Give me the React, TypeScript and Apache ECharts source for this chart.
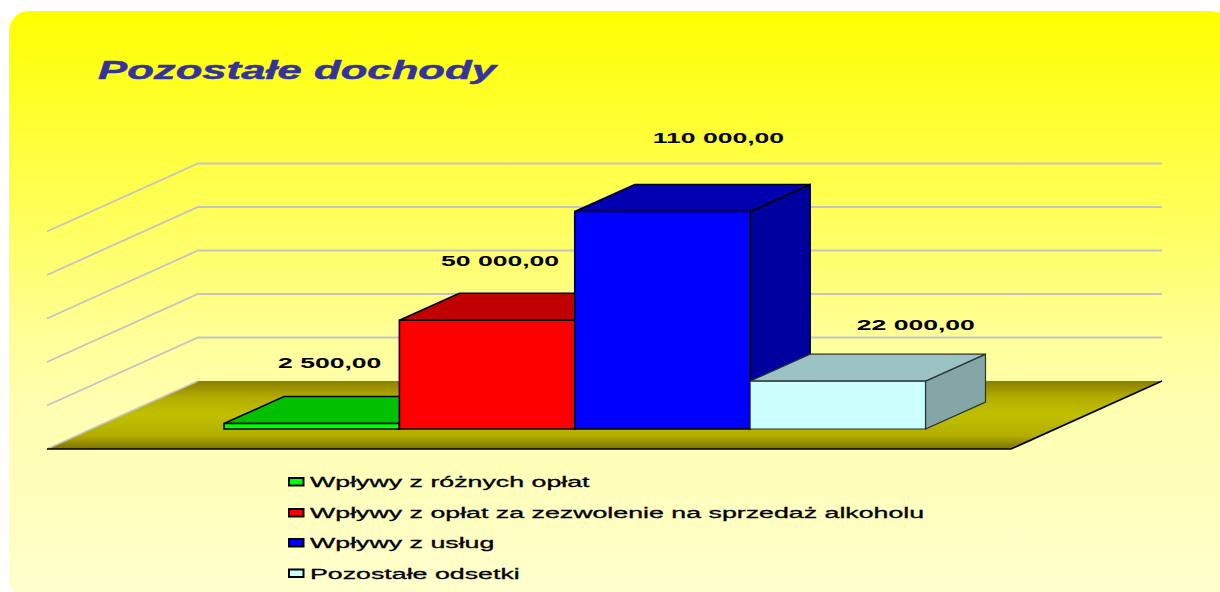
import React, { useEffect, useRef } from "react";
import * as echarts from "echarts";

const chartTitle = "Pozostałe dochody";
const categories = [
  "Wpływy z różnych opłat",
  "Wpływy z opłat za zezwolenie na sprzedaż alkoholu",
  "Wpływy z usług",
  "Pozostałe odsetki",
];
const values = [2500, 50000, 110000, 22000];
const valueLabels = ["2 500,00", "50 000,00", "110 000,00", "22 000,00"];
const gridTicks = [20000, 40000, 60000, 80000, 100000];
const axisMax = 100000;

const frontColors = ["#00ff00", "#ff0000", "#0000ff", "#ccffff"];
const topColors = ["#00c000", "#c00000", "#0000b0", "#9cc3c3"];
const sideColors = ["#009f00", "#a00000", "#00009f", "#84a6a6"];
const edgeColors = ["#000000", "#000000", "#000000", "#2b3333"];
// where each value label sits relative to the bar's front-top centre
const labelShiftX = [18, 13, 56, 78];
const labelShiftY = [61, 59, 74, 56];

const DX = 60; // bar depth on screen
const DY = 27;
const FONT = '"Liberation Sans", Arial, sans-serif';

function poly(points: number[][], fill: any, stroke: string, lineWidth: number) {
  return { type: "polygon", shape: { points }, style: { fill, stroke, lineWidth, lineJoin: "miter" } };
}

function barSeries(i: number) {
  return {
    type: "custom",
    name: categories[i],
    data: [[i, values[i]]],
    encode: { x: 0, y: 1 },
    renderItem: (_p: any, api: any) => {
      const cat = api.value(0);
      const v = Math.min(api.value(1), axisMax);
      const base = api.coord([cat, 0]);
      const top = api.coord([cat, v]);
      const w = api.size([1, 0])[0];
      const x0 = base[0] - w / 2;
      const x1 = base[0] + w / 2;
      const y0 = base[1];
      const y1 = top[1];
      const edge = edgeColors[i];
      const lw = i === 3 ? 1.2 : 1.6;
      return {
        type: "group",
        children: [
          poly([[x1, y1], [x1 + DX, y1 - DY], [x1 + DX, y0 - DY], [x1, y0]], sideColors[i], edge, lw),
          poly([[x0, y1], [x0 + DX, y1 - DY], [x1 + DX, y1 - DY], [x1, y1]], topColors[i], edge, lw),
          poly([[x0, y1], [x1, y1], [x1, y0], [x0, y0]], frontColors[i], edge, lw),
          {
            type: "text",
            x: base[0] + labelShiftX[i],
            y: y1 - labelShiftY[i],
            scaleX: 1.77,
            z2: 10,
            style: {
              text: valueLabels[i],
              font: `bold 15px ${FONT}`,
              fill: "#000000",
              align: "center",
              verticalAlign: "middle",
            },
          },
        ],
      };
    },
  };
}

// back wall gridlines, offset from the bars' front plane
const wallSeries = {
  type: "custom",
  name: "wall",
  data: gridTicks.map((t) => [0, t]),
  encode: { x: 0, y: 1 },
  silent: true,
  renderItem: (_p: any, api: any) => {
    const y = api.coord([0, api.value(1)])[1] - 48;
    return {
      type: "polyline",
      shape: { points: [[47, y + 68], [198, y], [1162, y]] },
      style: { fill: "none", stroke: "#c4c4c4", lineWidth: 1.8 },
    };
  },
};

const floorSeries = {
  type: "custom",
  name: "floor",
  data: [[0, 0]],
  encode: { x: 0, y: 1 },
  silent: true,
  renderItem: (_p: any, api: any) => {
    const y = api.coord([0, 0])[1];
    const back = y - 48;
    const front = y + 20;
    return {
      type: "group",
      children: [
        {
          type: "polygon",
          shape: { points: [[47, front], [198, back], [1162, back], [1011, front]] },
          style: {
            fill: new echarts.graphic.LinearGradient(0, 0, 0, 1, [
              { offset: 0, color: "#8c8000" },
              { offset: 0.25, color: "#b4ae00" },
              { offset: 0.5, color: "#c0c000" },
              { offset: 0.8, color: "#b4ae00" },
              { offset: 1, color: "#7d7300" },
            ]),
          },
        },
        {
          type: "line",
          shape: { x1: 47, y1: front, x2: 198, y2: back },
          style: { stroke: "#c4c4c4", lineWidth: 1.4 },
        },
        {
          type: "polyline",
          shape: { points: [[47, front], [1011, front], [1162, back]] },
          style: { fill: "none", stroke: "#000000", lineWidth: 1.6 },
        },
      ],
    };
  },
};

const legendRows = [482, 513, 543, 573.5];

function legendGraphics() {
  const out: any[] = [];
  categories.forEach((name, i) => {
    out.push({
      type: "rect",
      shape: { x: 289, y: legendRows[i] - 4, width: 14.5, height: 7.5 },
      style: { fill: frontColors[i], stroke: "#000000", lineWidth: 2 },
      z: 1,
    });
    out.push({
      type: "text",
      x: 310,
      y: legendRows[i],
      scaleX: 1.784,
      z: 1,
      style: {
        text: name,
        font: `15px ${FONT}`,
        fill: "#000000",
        stroke: "#000000",
        lineWidth: 0.3,
        align: "left",
        verticalAlign: "middle",
      },
    });
  });
  return out;
}

export default function App() {
  const ref = useRef<HTMLDivElement>(null);
  useEffect(() => {
    const chart = echarts.init(ref.current!, null, { renderer: "svg" });
    chart.setOption({
      animation: false,
      backgroundColor: "#ffffff",
      grid: { left: 224, width: 701.5, top: 211.5, height: 217.5 },
      xAxis: { type: "category", data: categories, show: false, boundaryGap: true },
      yAxis: { type: "value", min: 0, max: axisMax, interval: 20000, show: false },
      series: [wallSeries, floorSeries, ...categories.map((_, i) => barSeries(i))],
      graphic: [
        {
          type: "rect",
          z: 0,
          shape: { x: 9, y: 11, width: 1222, height: 581, r: [20, 20, 0, 8] },
          style: {
            fill: new echarts.graphic.LinearGradient(0, 0, 0, 1, [
              { offset: 0, color: "#ffff00" },
              { offset: 0.15, color: "#ffff28" },
              { offset: 0.33, color: "#ffff55" },
              { offset: 0.48, color: "#ffff80" },
              { offset: 0.55, color: "#ffff96" },
              { offset: 0.67, color: "#ffffaf" },
              { offset: 1, color: "#ffffcd" },
            ]),
          },
        },
        {
          type: "text",
          x: 98,
          y: 70,
          scaleX: 1.68,
          z: 1,
          style: {
            text: chartTitle,
            font: `italic bold 26px ${FONT}`,
            fill: "#333399",
            stroke: "#333399",
            lineWidth: 0.5,
            align: "left",
            verticalAlign: "middle",
          },
        },
        ...legendGraphics(),
      ],
    });
    return () => chart.dispose();
  }, []);
  return <div ref={ref} style={{ position: "fixed", left: 0, top: 0, width: 1220, height: 592 }} />;
}
